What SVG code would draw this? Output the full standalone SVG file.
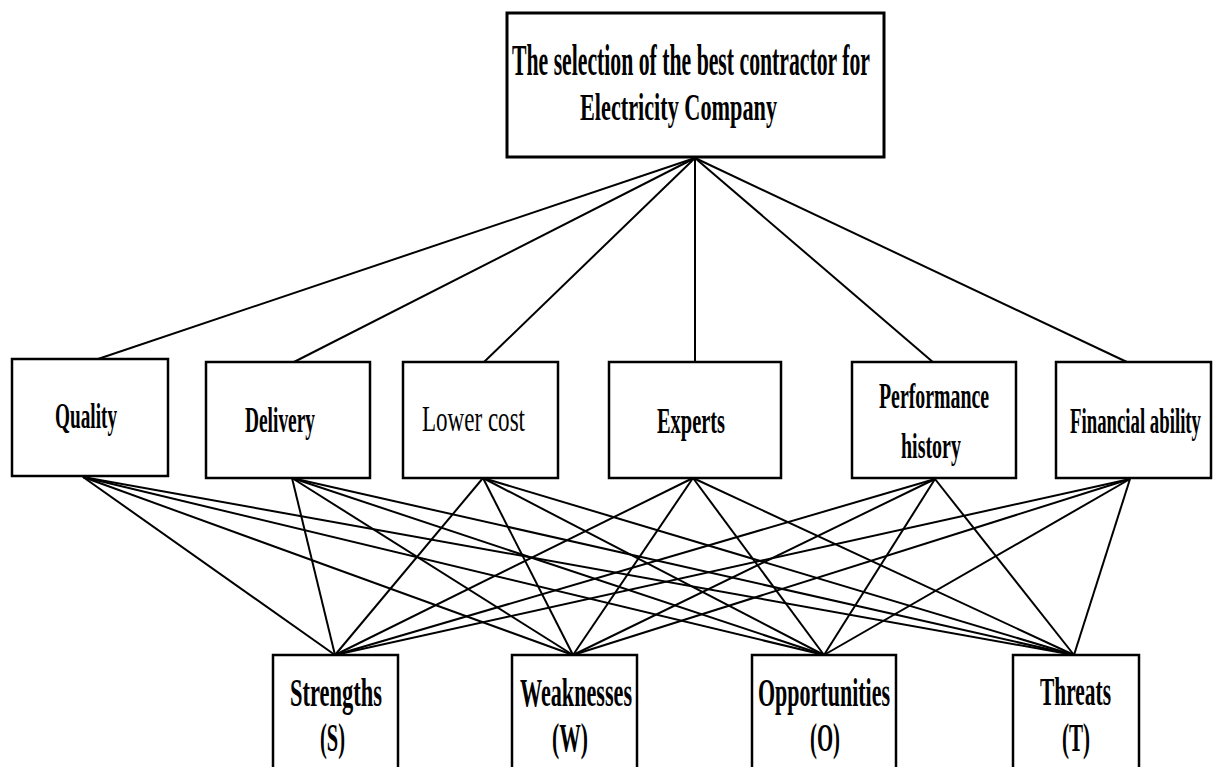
<svg xmlns="http://www.w3.org/2000/svg" width="1214" height="767" viewBox="0 0 1214 767">
<style>
.box{fill:#fff;stroke:#000;stroke-width:2.5}
.ln{stroke:#000;stroke-width:2;fill:none}
text{font-family:"Liberation Serif","Times New Roman",serif;fill:#000;text-anchor:start}
.b{font-weight:bold}
</style>
<rect width="1214" height="767" fill="#fff"/>
<g id="connectors">
<line class="ln" x1="695" y1="158" x2="95" y2="360"/>
<line class="ln" x1="695" y1="158" x2="292" y2="363"/>
<line class="ln" x1="695" y1="158" x2="483" y2="363"/>
<line class="ln" x1="695" y1="158" x2="695" y2="363"/>
<line class="ln" x1="695" y1="158" x2="934" y2="363"/>
<line class="ln" x1="695" y1="158" x2="1129" y2="363"/>
<line class="ln" x1="83" y1="477" x2="335" y2="655"/>
<line class="ln" x1="83" y1="477" x2="573" y2="655"/>
<line class="ln" x1="83" y1="477" x2="824" y2="655"/>
<line class="ln" x1="83" y1="477" x2="1074" y2="655"/>
<line class="ln" x1="292" y1="478" x2="335" y2="655"/>
<line class="ln" x1="292" y1="478" x2="573" y2="655"/>
<line class="ln" x1="292" y1="478" x2="824" y2="655"/>
<line class="ln" x1="292" y1="478" x2="1074" y2="655"/>
<line class="ln" x1="483" y1="478" x2="335" y2="655"/>
<line class="ln" x1="483" y1="478" x2="573" y2="655"/>
<line class="ln" x1="483" y1="478" x2="824" y2="655"/>
<line class="ln" x1="483" y1="478" x2="1074" y2="655"/>
<line class="ln" x1="693" y1="478" x2="335" y2="655"/>
<line class="ln" x1="693" y1="478" x2="573" y2="655"/>
<line class="ln" x1="693" y1="478" x2="824" y2="655"/>
<line class="ln" x1="693" y1="478" x2="1074" y2="655"/>
<line class="ln" x1="935" y1="479" x2="335" y2="655"/>
<line class="ln" x1="935" y1="479" x2="573" y2="655"/>
<line class="ln" x1="935" y1="479" x2="824" y2="655"/>
<line class="ln" x1="935" y1="479" x2="1074" y2="655"/>
<line class="ln" x1="1130" y1="479" x2="335" y2="655"/>
<line class="ln" x1="1130" y1="479" x2="573" y2="655"/>
<line class="ln" x1="1130" y1="479" x2="824" y2="655"/>
<line class="ln" x1="1130" y1="479" x2="1074" y2="655"/>
</g>
<g id="goal">
<rect class="box" x="507" y="13" width="377" height="144" style="stroke-width:3"/>
<text class="b" x="512" y="75" font-size="44" textLength="358" lengthAdjust="spacingAndGlyphs">The selection of the best contractor for</text>
<text class="b" x="580" y="120" font-size="38" textLength="197" lengthAdjust="spacingAndGlyphs">Electricity Company</text>
</g>
<g id="quality">
<rect class="box" x="12" y="359" width="156" height="117"/>
<text class="b" x="55" y="428" font-size="36" textLength="62" lengthAdjust="spacingAndGlyphs">Quality</text>
</g>
<g id="delivery">
<rect class="box" x="206" y="362" width="164" height="116"/>
<text class="b" x="245" y="432" font-size="36" textLength="70" lengthAdjust="spacingAndGlyphs">Delivery</text>
</g>
<g id="lowercost">
<rect class="box" x="403" y="362" width="155" height="116"/>
<text x="422" y="431" font-size="36" textLength="103" lengthAdjust="spacingAndGlyphs">Lower  cost</text>
</g>
<g id="experts">
<rect class="box" x="609" y="362" width="172" height="116"/>
<text class="b" x="657" y="433" font-size="36" textLength="68" lengthAdjust="spacingAndGlyphs">Experts</text>
</g>
<g id="performance">
<rect class="box" x="852" y="362" width="164" height="116"/>
<text class="b" x="879" y="408" font-size="35" textLength="110" lengthAdjust="spacingAndGlyphs">Performance</text>
<text class="b" x="901" y="458" font-size="35" textLength="60" lengthAdjust="spacingAndGlyphs">history</text>
</g>
<g id="financial">
<rect class="box" x="1056" y="362" width="155" height="116"/>
<text class="b" x="1070" y="433" font-size="36" textLength="131" lengthAdjust="spacingAndGlyphs">Financial ability</text>
</g>
<g id="strengths">
<rect class="box" x="273" y="655" width="125" height="140"/>
<text class="b" x="290" y="706" font-size="40" textLength="92" lengthAdjust="spacingAndGlyphs">Strengths</text>
<text class="b" x="320" y="751" font-size="40" textLength="25" lengthAdjust="spacingAndGlyphs">(S)</text>
</g>
<g id="weaknesses">
<rect class="box" x="512" y="655" width="125" height="140"/>
<text class="b" x="520" y="706" font-size="40" textLength="112" lengthAdjust="spacingAndGlyphs">Weaknesses</text>
<text class="b" x="552" y="751" font-size="40" textLength="36" lengthAdjust="spacingAndGlyphs">(W)</text>
</g>
<g id="opportunities">
<rect class="box" x="752" y="655" width="144" height="140"/>
<text class="b" x="758" y="706" font-size="40" textLength="132" lengthAdjust="spacingAndGlyphs">Opportunities</text>
<text class="b" x="810" y="751" font-size="40" textLength="30" lengthAdjust="spacingAndGlyphs">(O)</text>
</g>
<g id="threats">
<rect class="box" x="1013" y="655" width="126" height="140"/>
<text class="b" x="1040" y="705" font-size="40" textLength="71" lengthAdjust="spacingAndGlyphs">Threats</text>
<text class="b" x="1062" y="751" font-size="40" textLength="28" lengthAdjust="spacingAndGlyphs">(T)</text>
</g>
</svg>
